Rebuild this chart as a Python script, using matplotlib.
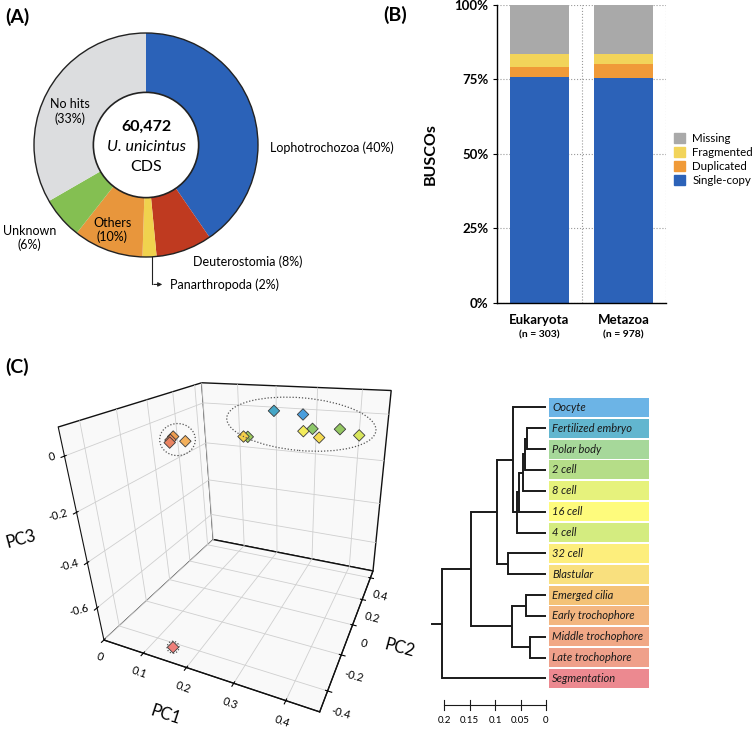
import numpy as np
import matplotlib
matplotlib.use("Agg")
import matplotlib.pyplot as plt
from matplotlib.patches import Circle, Rectangle, Ellipse, Patch
from matplotlib.transforms import IdentityTransform, blended_transform_factory
from mpl_toolkits.mplot3d import proj3d

plt.rcParams['font.family'] = ['Lato', 'DejaVu Sans']

# ---- (A) functional annotation of CDS
taxa = ['Lophotrochozoa', 'Deuterostomia', 'Panarthropoda', 'Others', 'Unknown', 'No hits']
taxa_pct = [40, 8, 2, 10, 6, 33]
taxa_colors = ['#2b62b8', '#bf3a20', '#f0d24e', '#e8963c', '#84bf52', '#dcdddf']

# ---- (B) BUSCO completeness
busco_sets = ['Eukaryota', 'Metazoa']
busco_n = [303, 978]
busco_single = [76.0, 75.5]
busco_dup = [3.1, 4.6]
busco_frag = [4.4, 3.4]
busco_missing = [16.5, 16.5]
busco_colors = {'Single-copy': '#2c62b8', 'Duplicated': '#f09a38',
                'Fragmented': '#f2d45a', 'Missing': '#a9a9a9'}

# ---- (C) PCA of developmental stages
stages = ['Oocyte', 'Fertilized embryo', 'Polar body', '2 cell', '8 cell', '16 cell',
          '4 cell', '32 cell', 'Blastular', 'Emerged cilia', 'Early trochophore',
          'Middle trochophore', 'Late trochophore', 'Segmentation']
pc1 = [0.285, 0.213, 0.338, 0.237, 0.435, 0.326, 0.391, 0.366, 0.235,
       0.164, 0.123, 0.136, 0.151, 0.149]
pc2 = [0.357, 0.373, 0.15, -0.03, 0.10, 0.107, 0.165, 0.05, -0.06,
       -0.246, -0.198, -0.256, -0.306, -0.433]
pc3 = [0.0, 0.004, -0.007, -0.011, -0.005, -0.008, -0.004, -0.012, -0.003,
       0.014, 0.012, 0.016, 0.022, -0.745]
label_colors = ['#6cb4e6', '#62b6cf', '#a6d89a', '#b5dd88', '#e6f27c', '#fefb7c', '#d4ec80',
                '#fdee7c', '#f9e07e', '#f4c276', '#f3b680', '#f1a886', '#efa08a', '#ec8990']
point_colors = ['#4a9edd', '#45a6c6', '#8dc86a', '#9dcb5e', '#d8e65c', '#f3ec5c', '#94c862',
                '#f5da50', '#f5cf4a', '#f3b05c', '#ee9e50', '#ec8a5c', '#ea8462', '#ee7f7a']
groups = [list(range(0, 9)), list(range(9, 13)), [13]]

# hierarchical clustering merges: (left, right, height); ids >= 14 are merges
merges = [(1, 2, 0.038), (14, 3, 0.041), (15, 4, 0.045), (16, 5, 0.053), (17, 6, 0.057),
          (0, 18, 0.064), (7, 8, 0.074), (19, 20, 0.096), (9, 10, 0.039), (11, 12, 0.032),
          (22, 23, 0.066), (21, 24, 0.147), (25, 13, 0.204)]
scale_ticks = [0.2, 0.15, 0.1, 0.05, 0]
pc3_ticks = [-0.6, -0.4, -0.2, 0]

W, H = 756, 732
fig = plt.figure(figsize=(W / 100, H / 100), dpi=100)


def px_rect(x0, y0, x1, y1):
    return [x0 / W, 1 - y1 / H, (x1 - x0) / W, (y1 - y0) / H]


# ================= (A) donut
cx, cy, r = 146, 145, 112
ext = 1.3 * r
axA = fig.add_axes(px_rect(cx - ext, cy - ext, cx + ext, cy + ext))
axA.pie(taxa_pct, colors=taxa_colors, startangle=90, counterclock=False, radius=1,
        wedgeprops=dict(width=0.53, edgecolor='none'))
axA.add_patch(Circle((0, 0), 1, fill=False, ec='#222222', lw=1))
axA.add_patch(Circle((0, 0), 0.47, fc='white', ec='#222222', lw=1.2))
axA.set_xlim(-1.3, 1.3)
axA.set_ylim(-1.3, 1.3)
axA.axis('off')
fs = 9
axA.text(1.107, -0.02, 'Lophotrochozoa (40%)', fontsize=fs, va='center', ha='left')
axA.text(0.42, -1.04, 'Deuterostomia (8%)', fontsize=fs, va='center', ha='left')
axA.text(0.215, -1.245, 'Panarthropoda (2%)', fontsize=fs, va='center', ha='left')
axA.text(-0.30, -0.76, 'Others\n(10%)', fontsize=fs, va='center', ha='center', linespacing=1.2)
axA.text(-1.04, -0.83, 'Unknown\n(6%)', fontsize=fs, va='center', ha='center', linespacing=1.2)
axA.text(-0.68, 0.30, 'No hits\n(33%)', fontsize=fs, va='center', ha='center', linespacing=1.2)
axA.plot([0.05, 0.05], [-1.0, -1.245], color='#222222', lw=0.8)
axA.annotate('', xy=(0.17, -1.245), xytext=(0.045, -1.245),
             arrowprops=dict(arrowstyle='-|>', color='#222222', lw=0.8, mutation_scale=6))
axA.text(0, 0.16, '60,472', fontsize=11.5, fontweight='bold', ha='center', va='center')
axA.text(0, -0.02, 'U. unicintus', fontsize=11.5, style='italic', ha='center', va='center')
axA.text(0, -0.20, 'CDS', fontsize=11.5, ha='center', va='center')

# ================= (B) BUSCO
axB = fig.add_axes(px_rect(497, 5, 666, 303))
xpos = np.arange(len(busco_sets))
bottom = np.zeros(len(busco_sets))
for name, vals in [('Single-copy', busco_single), ('Duplicated', busco_dup),
                   ('Fragmented', busco_frag), ('Missing', busco_missing)]:
    axB.bar(xpos, vals, width=0.7, bottom=bottom, color=busco_colors[name], zorder=2)
    bottom += np.array(vals)
axB.set_xlim(-0.5, 1.5)
axB.set_ylim(0, 100)
axB.set_yticks([0, 25, 50, 75, 100], ['0%', '25%', '50%', '75%', '100%'],
               fontsize=9.5, fontweight='bold')
axB.set_xticks([0.5, 1.5])
axB.tick_params(axis='x', length=0, labelbottom=False)
axB.tick_params(axis='y', length=3, width=0.8, pad=3)
axB.grid(True, ls=':', color='#9a9a9a', lw=0.8, zorder=0)
for s in ('top', 'right'):
    axB.spines[s].set_visible(False)
for s in ('left', 'bottom'):
    axB.spines[s].set_linewidth(1.0)
axB.set_ylabel('BUSCOs', fontsize=11.5, fontweight='bold', labelpad=12)
tB = blended_transform_factory(axB.transData, axB.transAxes)
for i, (name, n) in enumerate(zip(busco_sets, busco_n)):
    axB.text(i, -0.057, name, transform=tB, ha='center', va='center', fontsize=9.5, fontweight='bold')
    axB.text(i, -0.108, f'(n = {n})', transform=tB, ha='center', va='center', fontsize=7.5, fontweight='bold')
handles = [Patch(color=busco_colors[k]) for k in ['Missing', 'Fragmented', 'Duplicated', 'Single-copy']]
fig.legend(handles, ['Missing', 'Fragmented', 'Duplicated', 'Single-copy'], loc='upper left',
           bbox_to_anchor=(668 / W, 1 - 127 / H), frameon=False, fontsize=8.3,
           handlelength=1.0, handleheight=1.0, labelspacing=0.25, handletextpad=0.6, borderpad=0)

# ================= (C) PCA 3D
ax3 = fig.add_axes(px_rect(47, 323, 440, 716), projection='3d')
ax3.set_facecolor('none')
ax3.set_proj_type('persp', focal_length=0.21)
ax3.view_init(elev=25, azim=-64.5, roll=2)
ax3.set_box_aspect((0.98, 1, 0.95), zoom=0.94)
ax3.set_xlim(0, 0.46)
ax3.set_ylim(-0.5, 0.47)
ax3.set_zlim(-0.755, 0.095)
ax3.set_xticks([0, 0.1, 0.2, 0.3, 0.4], ['0', '0.1', '0.2', '0.3', '0.4'])
ax3.set_yticks([-0.4, -0.2, 0, 0.2, 0.4], ['-0.4', '-0.2', '0', '0.2', '0.4'])
ax3.set_zticks(pc3_ticks, [''] * len(pc3_ticks))
for axis in (ax3.xaxis, ax3.yaxis, ax3.zaxis):
    axis.set_pane_color((0.975, 0.975, 0.975, 1))
    axis.pane.set_edgecolor('#111111')
    axis.pane.set_linewidth(1.0)
    axis.line.set_color('#111111')
    axis._axinfo['grid'].update(color='#cfcfcf', linewidth=0.6)
ax3.zaxis.set_ticks_position('lower')
ax3.tick_params(axis='x', labelsize=8, labelrotation=-20, pad=-3)
ax3.tick_params(axis='y', labelsize=8, labelrotation=-15, pad=0)
ax3.scatter(pc1, pc2, pc3, marker='D', s=34, c=point_colors, edgecolors='#3a3a3a',
            linewidths=0.6, depthshade=False, alpha=1)

# ================= (C) dendrogram
axD = fig.add_axes(px_rect(430, 385, 656, 730))
axD.set_xlim(0.2283, -0.2165)
axD.set_ylim(15.47, -1.074)
axD.axis('off')
node_y = {i: float(i) for i in range(len(stages))}
node_h = {i: 0.0 for i in range(len(stages))}
for k, (a, b, h) in enumerate(merges):
    nid = len(stages) + k
    for c in (a, b):
        axD.plot([node_h[c], h], [node_y[c], node_y[c]], color='#1a1a1a', lw=1.4,
                 solid_capstyle='butt')
    axD.plot([h, h], [node_y[a], node_y[b]], color='#1a1a1a', lw=1.4, solid_capstyle='projecting')
    node_y[nid] = (node_y[a] + node_y[b]) / 2
    node_h[nid] = h
root = len(stages) + len(merges) - 1
axD.plot([node_h[root], 0.2244], [node_y[root]] * 2, color='#1a1a1a', lw=1.4)
for i, (name, col) in enumerate(zip(stages, label_colors)):
    axD.add_patch(Rectangle((-0.2028, i - 0.455), 0.1969, 0.91, fc=col, ec='none'))
    axD.text(-0.0118, i, name, fontsize=8, style='italic', va='center', ha='left', color='#1a1a1a')
axD.plot([scale_ticks[0], scale_ticks[-1]], [14.27, 14.27], color='#1a1a1a', lw=0.8)
for t in scale_ticks:
    axD.plot([t, t], [14.05, 14.49], color='#1a1a1a', lw=0.8)
    axD.text(t, 15.0, f'{t:g}', fontsize=7, ha='center', va='center')

# panel letters
fig.text(5 / W, 1 - 17 / H, '(A)', fontsize=14, fontweight='bold', va='center')
fig.text(383 / W, 1 - 15 / H, '(B)', fontsize=14, fontweight='bold', va='center')
fig.text(5 / W, 1 - 367 / H, '(C)', fontsize=14, fontweight='bold', va='center')

# dotted rings, PC3 tick labels and axis titles, placed from projected points
fig.canvas.draw()
M = ax3.get_proj()


def to_px(xs, ys, zs):
    x2, y2, _ = proj3d.proj_transform(np.atleast_1d(xs), np.atleast_1d(ys), np.atleast_1d(zs), M)
    return ax3.transData.transform(np.column_stack([x2, y2]))


disp = to_px(np.array(pc1), np.array(pc2), np.array(pc3))
ring_pad = [(34, 26, -5), (20, 26, 0), (12, 12, 0)]
for members, (pw, ph, ang) in zip(groups, ring_pad):
    pts = disp[members]
    lo, hi = pts.min(0), pts.max(0)
    c = (lo + hi) / 2
    fig.add_artist(Ellipse(c, hi[0] - lo[0] + pw, hi[1] - lo[1] + ph, angle=ang,
                           transform=IdentityTransform(), fill=False, ls=(0, (1, 1.5)),
                           lw=0.9, ec='#555555'))

x0, x1 = ax3.get_xlim()
y0, y1 = ax3.get_ylim()
z0, z1 = ax3.get_zlim()
for t in pc3_ticks:
    px, py = to_px(x0, y0, t)[0]
    fig.text((px - 9) / W, py / H, f'{t:g}', fontsize=8, rotation=15,
             ha='right', va='center', rotation_mode='anchor')

axis_titles = [('PC1', (x0 + x1) / 2, y0, z0, (-35, -43), -18),
               ('PC2', x1, (y0 + y1) / 2, z0, (48, -21), -15),
               ('PC3', x0, y0, (z0 + z1) / 2, (-63, 6), 15)]
for txt, ax_, ay_, az_, (ox, oy), rot in axis_titles:
    px, py = to_px(ax_, ay_, az_)[0]
    fig.text((px + ox) / W, (py + oy) / H, txt, fontsize=12, rotation=rot,
             ha='center', va='center')

fig.savefig('out.png', dpi=100)
